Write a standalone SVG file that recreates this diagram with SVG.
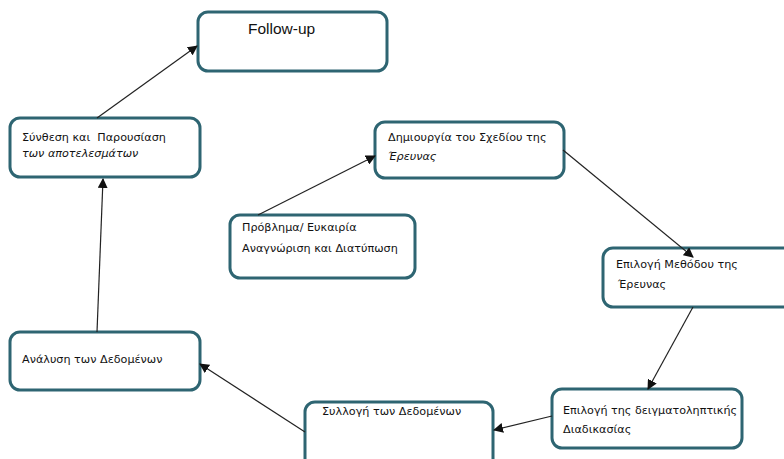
<svg xmlns="http://www.w3.org/2000/svg" width="784" height="459" viewBox="0 0 784 459">
<style>
.box{fill:#fff;stroke:#2e6572;stroke-width:3}
.t{font-family:"DejaVu Sans","Liberation Sans",sans-serif;font-size:11.2px;fill:#111;white-space:pre}
.i{font-style:italic}
.c{stroke:#222;stroke-width:1.2;fill:none;marker-end:url(#ah)}
</style>
<defs>
<marker id="ah" viewBox="0 0 10 10" refX="9" refY="5" markerWidth="10" markerHeight="10" markerUnits="userSpaceOnUse" orient="auto">
<path d="M0,0 L10,5 L0,10 z" fill="#111"/>
</marker>
</defs>
<rect width="784" height="459" fill="#fff"/>
<g id="followup">
<rect class="box" x="198" y="12" width="189" height="59" rx="10"/>
<text class="t" x="248" y="34" style="font-family:'Liberation Sans',Arial,sans-serif;font-size:15.5px">Follow-up</text>
</g>
<g id="synthesis">
<rect class="box" x="10" y="118" width="190" height="59" rx="10"/>
<text class="t" x="22" y="141" xml:space="preserve">Σύνθεση και  Παρουσίαση</text>
<text class="t i" x="22" y="157">των αποτελεσμάτων</text>
</g>
<g id="problem">
<rect class="box" x="230" y="215" width="185" height="63" rx="10"/>
<text class="t" x="242" y="231">Πρόβλημα/ Ευκαιρία</text>
<text class="t" x="242" y="252">Αναγνώριση και Διατύπωση</text>
</g>
<g id="design">
<rect class="box" x="375" y="122" width="189" height="56" rx="10"/>
<text class="t" x="388" y="141">Δημιουργία του Σχεδίου της</text>
<text class="t i" x="388" y="160">Έρευνας</text>
</g>
<g id="method">
<rect class="box" x="603" y="248" width="190" height="59" rx="10"/>
<text class="t" x="616" y="268">Επιλογή Μεθόδου της</text>
<text class="t" x="618" y="288">Έρευνας</text>
</g>
<g id="sampling">
<rect class="box" x="552" y="389" width="190" height="59" rx="10"/>
<text class="t" x="563" y="414" textLength="174" lengthAdjust="spacingAndGlyphs">Επιλογή της δειγματοληπτικής</text>
<text class="t" x="563" y="433">Διαδικασίας</text>
</g>
<g id="collection">
<rect class="box" x="305" y="402" width="188" height="70" rx="10"/>
<text class="t" x="322" y="415">Συλλογή των Δεδομένων</text>
</g>
<g id="analysis">
<rect class="box" x="10" y="332" width="190" height="58" rx="10"/>
<text class="t" x="22" y="363">Ανάλυση των Δεδομένων</text>
</g>
<g id="connectors">
<line class="c" x1="97" y1="118" x2="197" y2="46"/>
<line class="c" x1="258" y1="215" x2="375" y2="156"/>
<line class="c" x1="563" y1="150" x2="693" y2="257"/>
<line class="c" x1="693" y1="307" x2="648" y2="389"/>
<line class="c" x1="552" y1="416" x2="494" y2="430"/>
<line class="c" x1="305" y1="432" x2="200" y2="364"/>
<line class="c" x1="97" y1="332" x2="103" y2="179"/>
</g>
</svg>
